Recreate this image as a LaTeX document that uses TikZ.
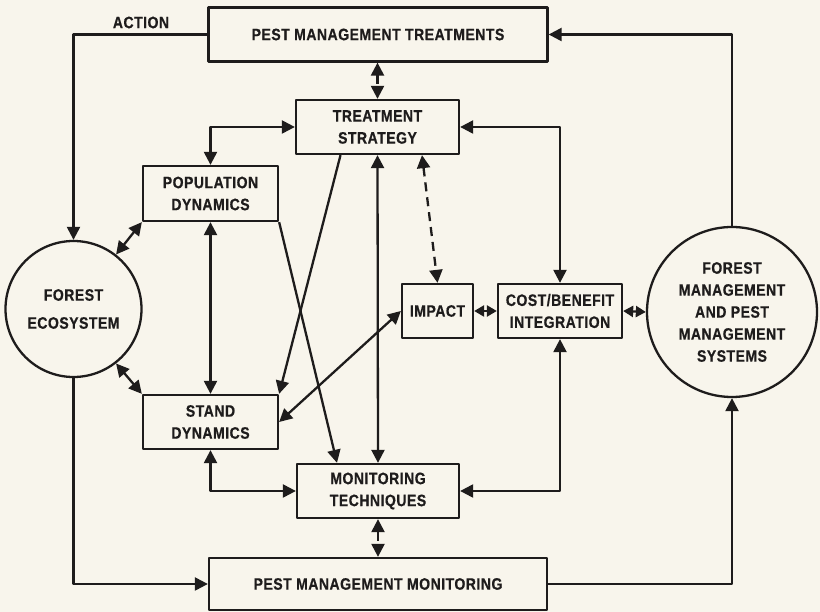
\documentclass[tikz,border=0pt]{standalone}
\usepackage{fontspec}
\setmainfont{Liberation Sans}[FakeStretch=0.85,LetterSpace=3,FakeBold=0.6]
\usetikzlibrary{arrows.meta}
\definecolor{paper}{RGB}{248,245,236}
\definecolor{ink}{RGB}{30,28,28}
\begin{document}
\begin{tikzpicture}[>={Triangle[length=13bp,width=13bp]},line join=bevel,
  every node/.style={font=\bfseries\fontsize{16.5bp}{22bp}\selectfont,text=ink,align=center},
  box/.style={draw=ink,line width=2.3bp,inner sep=0pt},
  ring/.style={draw=ink,line width=2.3bp,circle,inner sep=0pt},
  link/.style={ink,line width=2.3bp},
  dashlink/.style={ink,line width=2.3bp,dash pattern=on 9bp off 6bp},
  shortlink/.style={ink,line width=2.3bp,>={Triangle[length=10bp,width=11bp]}},
]
%%
\fill [paper] (0bp,0bp) rectangle (820bp,612bp);
\useasboundingbox (0bp,0bp) rectangle (820bp,612bp);
\node (pmt) at (378bp,577.5bp) [box,minimum width=339bp,minimum height=54bp] {PEST MANAGEMENT TREATMENTS};
  \node (strategy) at (377.5bp,485bp) [box,minimum width=163bp,minimum height=54bp] {TREATMENT\\STRATEGY};
  \node (popdyn) at (210.5bp,418.5bp) [box,minimum width=135bp,minimum height=55bp] {POPULATION\\DYNAMICS};
  \node (standdyn) at (210.5bp,190bp) [box,minimum width=135bp,minimum height=54bp] {STAND\\DYNAMICS};
  \node (monitor) at (378bp,121bp) [box,minimum width=162bp,minimum height=54bp] {MONITORING\\TECHNIQUES};
  \node (pmm) at (378bp,28bp) [box,minimum width=338bp,minimum height=52bp] {PEST MANAGEMENT MONITORING};
  \node (impact) at (437.5bp,301bp) [box,minimum width=71bp,minimum height=54bp] {IMPACT};
  \node (costben) at (560bp,301bp) [box,minimum width=124bp,minimum height=54bp] {COST/BENEFIT\\INTEGRATION};
  \node (forest) at (73.5bp,303bp) [ring,minimum size=136bp] {FOREST\\[6bp]ECOSYSTEM};
  \node (fmpm) at (732bp,300bp) [ring,minimum size=170bp] {FOREST\\MANAGEMENT\\AND PEST\\MANAGEMENT\\SYSTEMS};
  \node (action) at (141bp,589.5bp) {ACTION};
  \draw [link,->] (pmt.west) -| (forest.north);
  \draw [link,->] (fmpm.north) |- (pmt.east);
  \draw [link,->] (forest.south) |- (pmm.west);
  \draw [link,->] (pmm.east) -| (fmpm.south);
  \draw [dashlink,<->] (pmt.south -| strategy.north) -- (strategy.north);
  \draw [dashlink,<->] (monitor.south) -- (monitor.south |- pmm.north);
  \draw [link,<->] (popdyn.north) |- (strategy.west);
  \draw [link,<->] (strategy.east) -| (costben.north);
  \draw [link,<->] (costben.south) |- (monitor.east);
  \draw [link,<->] (standdyn.south) |- (monitor.west);
  \draw [link,<->] (popdyn.south) -- (standdyn.north);
  \draw [link,<->] (strategy.south) -- (monitor.north);
  \draw [link,<->] (forest.52) -- (popdyn.south west);
  \draw [link,<->] (forest.-52) -- (standdyn.north west);
  \draw [link,->] ([xshift=-37bp]strategy.south) -- (standdyn.north east);
  \draw [link,->] (popdyn.south east) -- ([xshift=-41bp]monitor.north);
  \draw [link,<->] (standdyn.east) -- (impact.west);
  \draw [dashlink,<->] ([xshift=44.5bp]strategy.south) -- (impact.north);
  \draw [shortlink,<->] (impact.east) -- (costben.west);
  \draw [shortlink,<->] (costben.east) -- (fmpm.west);
%
\end{tikzpicture}
\end{document}
